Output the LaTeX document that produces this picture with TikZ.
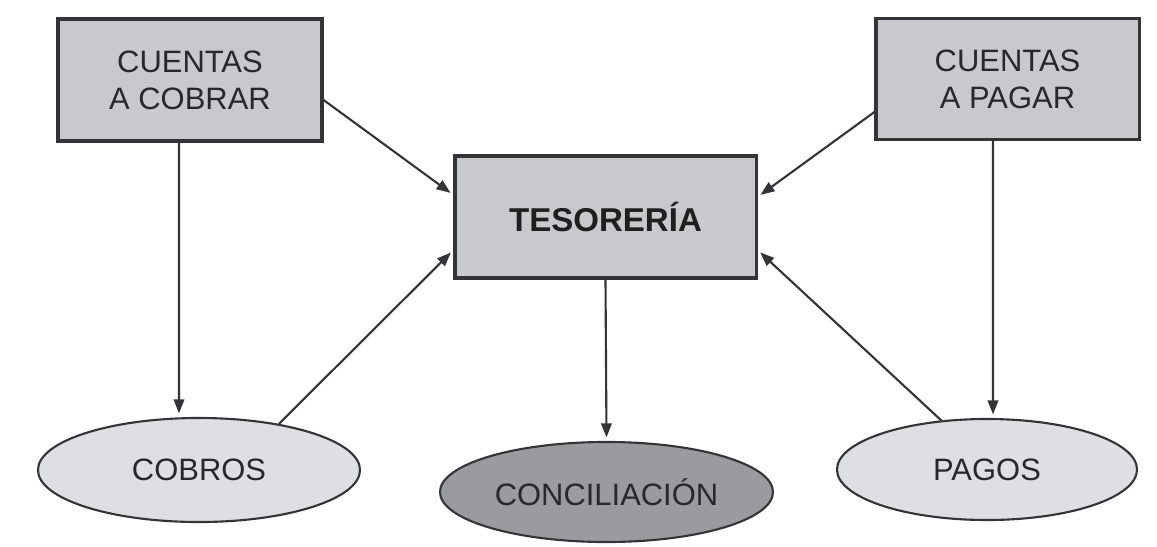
\documentclass[tikz,border=0pt]{standalone}
\usepackage{fontspec}
\setmainfont{Liberation Sans}
\usetikzlibrary{shapes.geometric,arrows.meta}
\definecolor{boxgray}{RGB}{200,201,205}
\definecolor{ovalgray}{RGB}{221,223,227}
\definecolor{ovaldark}{RGB}{154,155,159}
\definecolor{edgegray}{RGB}{52,52,54}
\definecolor{textgray}{RGB}{40,40,42}
\tikzset{
    cuenta/.style={rectangle, draw=edgegray, fill=boxgray, line width=2.2pt, align=center, text=textgray, font=\fontsize{22}{26.3}\selectfont},
    ovalo/.style={ellipse, draw=edgegray, fill=ovalgray, line width=1.5pt, inner sep=0pt, text=textgray, font=\fontsize{22}{26.3}\selectfont},
    flujo/.style={line width=1.5pt, edgegray, -{Triangle[length=10pt,width=7.5pt]}, shorten >=2.5pt},
}
\begin{document}
\begin{tikzpicture}[x=0.025cm, y=-0.025cm]
    \useasboundingbox[fill=white] (0,0) rectangle (1157,546);
    % cajas
    \node[cuenta, minimum width=6.6cm, minimum height=3.05cm] (cobrar) at (190,80) {CUENTAS\\A COBRAR};
    \node[cuenta, minimum width=6.575cm, minimum height=3.025cm] (pagar) at (1007.5,79) {CUENTAS\\A PAGAR};
    \node[cuenta, minimum width=7.525cm, minimum height=3.05cm, font=\fontsize{23.5}{27}\selectfont\bfseries, text=black!88] (tesoreria) at (605.5,217) {TESORERÍA};
    % ovalos
    \node[ovalo, minimum width=8.05cm, minimum height=2.6cm] (cobros) at (199,470) {COBROS};
    \node[ovalo, minimum width=8.325cm, minimum height=2.5cm, fill=ovaldark] (conciliacion) at (606.5,492) {CONCILIACIÓN};
    \node[ovalo, minimum width=7.5cm, minimum height=2.525cm] (pagos) at (987,469.5) {PAGOS};
    % flechas
    \draw[flujo] ([xshift=-0.275cm]cobrar.south) -- ([xshift=-0.5cm]cobros.north);
    \draw[flujo] ([yshift=-0.5cm]cobrar.east) -- ([yshift=0.55cm]tesoreria.west);
    \draw[flujo] (cobros.30) -- ([yshift=-0.825cm]tesoreria.west);
    \draw[flujo] ([yshift=-0.825cm]pagar.west) -- ([yshift=0.5cm]tesoreria.east);
    \draw[flujo] ([xshift=-0.3625cm]pagar.south) -- ([xshift=0.15cm]pagos.north);
    \draw[flujo] (pagos.133) -- ([yshift=-0.825cm]tesoreria.east);
    \draw[flujo] (tesoreria.south) -- (conciliacion.north);
\end{tikzpicture}
\end{document}
